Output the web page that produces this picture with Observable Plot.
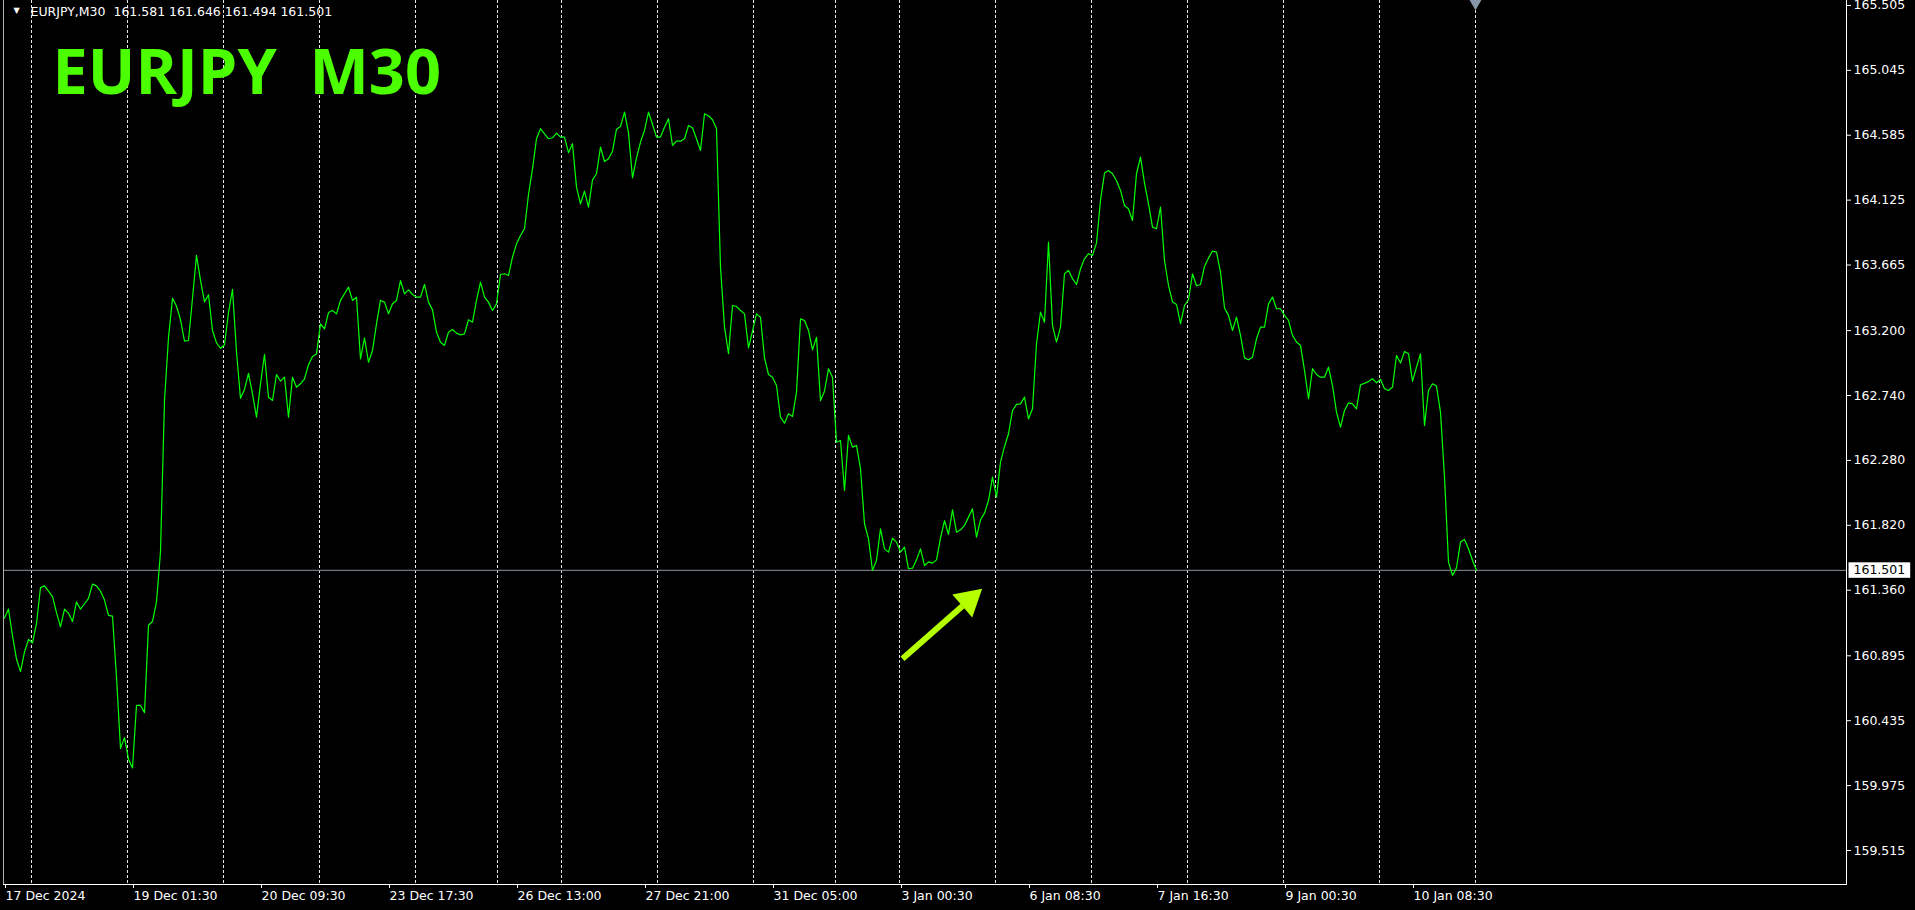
<!DOCTYPE html>
<html>
<head>
<meta charset="utf-8">
<script src="https://cdn.jsdelivr.net/npm/d3@7"></script>
<script src="https://cdn.jsdelivr.net/npm/@observablehq/plot@0.6"></script>
<style>
  html, body { margin: 0; padding: 0; background: #000; overflow: hidden; }
  #chart svg { display: block; }
</style>
</head>
<body>
<div id="chart"></div>
<script>
// ---- chart text ----
const symbolName = "EURJPY";
const timeframe = "M30";
const ohlcHeader = ["161.581", "161.646", "161.494", "161.501"];
const lastClose = 161.501;

// ---- close prices, one value every barStep bars (M30 bars, left to right) ----
const barStep = 2;
const closes17to19Dec = [
  161.163, 161.226, 161.037, 160.872, 160.783, 160.923, 161.011, 160.986, 161.125, 161.378,
  161.391, 161.353, 161.315, 161.201, 161.100, 161.226, 161.196, 161.138, 161.277, 161.226,
  161.264, 161.302, 161.404, 161.391, 161.353, 161.290, 161.181, 161.176, 160.745, 160.239,
  160.315, 160.163, 160.100, 160.543, 160.543, 160.492, 161.112, 161.138, 161.277, 161.631,
  162.707, 163.150, 163.429, 163.373, 163.277, 163.125, 163.130, 163.429, 163.733, 163.556,
  163.404, 163.454, 163.201, 163.113, 163.075, 163.100, 163.328, 163.492, 163.049, 162.720,
  162.783, 162.897
];
const closes20to24Dec = [
  162.752, 162.587, 162.823, 163.031, 162.728, 162.705, 162.889, 162.842, 162.870, 162.587,
  162.870, 162.799, 162.823, 162.858, 162.958, 163.017, 163.035, 163.248, 163.213, 163.328,
  163.343, 163.319, 163.414, 163.461, 163.508, 163.414, 163.437, 163.000, 163.149, 162.976,
  163.059, 163.248, 163.414, 163.402, 163.319, 163.390, 163.414, 163.555, 163.461, 163.489,
  163.456, 163.437, 163.437, 163.527, 163.402, 163.347, 163.189, 163.118, 163.095, 163.189,
  163.208, 163.182, 163.170, 163.177, 163.277, 163.260, 163.414, 163.544, 163.437, 163.402,
  163.343, 163.390, 163.598, 163.603
];
const closes25to30Dec = [
  163.591, 163.721, 163.815, 163.874, 163.922, 164.165, 164.347, 164.560, 164.631, 164.595,
  164.560, 164.567, 164.600, 164.572, 164.572, 164.461, 164.525, 164.217, 164.099, 164.189,
  164.075, 164.269, 164.312, 164.501, 164.399, 164.418, 164.472, 164.628, 164.647, 164.749,
  164.602, 164.283, 164.425, 164.536, 164.619, 164.749, 164.661, 164.572, 164.572, 164.642,
  164.701, 164.512, 164.543, 164.543, 164.560, 164.654, 164.638, 164.560, 164.477, 164.737,
  164.723, 164.695, 164.631, 163.650, 163.225, 163.036, 163.378, 163.371, 163.343, 163.319
];
const closes30Decto3Jan = [
  163.078, 163.196, 163.319, 163.295, 163.007, 162.889, 162.870, 162.811, 162.586, 162.544,
  162.610, 162.591, 162.764, 163.283, 163.272, 163.201, 163.064, 163.153, 162.704, 162.771,
  162.929, 162.870, 162.409, 162.421, 162.067, 162.457, 162.374, 162.386, 162.221, 161.831,
  161.724, 161.500, 161.571, 161.795, 161.653, 161.630, 161.729, 161.701, 161.630, 161.665,
  161.512, 161.516, 161.575, 161.653, 161.535, 161.561, 161.552, 161.575, 161.729, 161.854,
  161.755, 161.930, 161.771, 161.788, 161.819, 161.878, 161.937, 161.736, 161.859, 161.906,
  161.996, 162.161, 162.020
];
const closes3to7Jan = [
  162.268, 162.379, 162.469, 162.634, 162.677, 162.681, 162.729, 162.575, 162.646, 163.107,
  163.331, 163.260, 163.827, 163.237, 163.119, 163.225, 163.603, 163.627, 163.568, 163.527,
  163.638, 163.709, 163.745, 163.733, 163.820, 164.123, 164.317, 164.335, 164.312, 164.262,
  164.194, 164.087, 164.064, 163.981, 164.312, 164.430, 164.246, 164.099, 163.934, 163.922,
  164.076, 163.697, 163.520, 163.404, 163.386, 163.249, 163.378, 163.419, 163.603, 163.518,
  163.527, 163.655, 163.714, 163.764, 163.757, 163.615, 163.360, 163.308, 163.201, 163.296
];
const closes8to10Jan = [
  163.166, 163.007, 162.993, 163.012, 163.142, 163.225, 163.225, 163.390, 163.438, 163.355,
  163.355, 163.308, 163.272, 163.166, 163.119, 163.095, 162.918, 162.717, 162.930, 162.889,
  162.870, 162.870, 162.941, 162.811, 162.622, 162.516, 162.634, 162.688, 162.681, 162.646,
  162.816, 162.826, 162.840, 162.859, 162.830, 162.854, 162.788, 162.776, 162.800, 163.024,
  162.970, 163.052, 163.036, 162.840, 162.941, 163.036, 162.528, 162.776, 162.823, 162.807,
  162.622, 162.162, 161.559, 161.465, 161.519, 161.701, 161.720, 161.654, 161.571, 161.501
];

// ---- axes ----
const xTickBars = [0, 64, 128, 192, 256, 320, 384, 448, 512, 576, 640, 704];
const xTickLabels = ["17 Dec 2024", "19 Dec 01:30", "20 Dec 09:30", "23 Dec 17:30", "26 Dec 13:00",
  "27 Dec 21:00", "31 Dec 05:00", "3 Jan 00:30", "6 Jan 08:30", "7 Jan 16:30", "9 Jan 00:30", "10 Jan 08:30"];
const yTickValues = [165.505, 165.045, 164.585, 164.125, 163.665, 163.200, 162.740, 162.280,
  161.820, 161.360, 160.895, 160.435, 159.975, 159.515];
const daySeparatorBars = [13.5, 61.5, 109.5, 157.5, 205.5, 246.5, 278.5, 326.5, 374.5, 415.5,
  447.5, 495.5, 543.5, 591.5, 639.5, 687.5, 735.5];
const chartShiftBar = 735.5;
const xDomain = [-0.5, 921];
const yDomain = [159.274, 165.540];

// ---- annotation arrow (bar, price) ----
const arrowTail = {bar: 449, price: 160.874};
const arrowShaftEnd = {bar: 479, price: 161.248};
const arrowHead = {bar: 482.2, price: 161.289, angle: 49};

// ---- build table ----
const closes = [...closes17to19Dec, ...closes20to24Dec, ...closes25to30Dec,
  ...closes30Decto3Jan, ...closes3to7Jan, ...closes8to10Jan];
const series = closes.map((c, i) => ({bar: i * barStep, close: c}));

const lastLabel = lastClose.toFixed(3);
const headerText = `${symbolName},${timeframe}\u00a0\u00a0${ohlcHeader.join(" ")}`;
const titleText = `${symbolName}\u00a0\u00a0${timeframe}`;

const chart = Plot.plot({
  width: 1915,
  height: 910,
  marginLeft: 3,
  marginRight: 69,
  marginTop: 0,
  marginBottom: 26,
  style: {background: "#000", color: "#fff", fontFamily: "'DejaVu Sans', sans-serif", fontSize: "12.5px"},
  x: {domain: xDomain},
  y: {domain: yDomain},
  marks: [
    Plot.ruleX(daySeparatorBars, {stroke: "#e6e6e6", strokeDasharray: "3,2", strokeWidth: 1}),
    Plot.ruleY([lastClose], {stroke: "#8a939e"}),
    Plot.line(series, {x: "bar", y: "close", stroke: "#00ff00", strokeWidth: 1.2}),
    Plot.link([{a: arrowTail, b: arrowShaftEnd}], {
      x1: d => d.a.bar, y1: d => d.a.price, x2: d => d.b.bar, y2: d => d.b.price,
      stroke: "#b4ff00", strokeWidth: 6
    }),
    Plot.dot([arrowHead], {x: "bar", y: "price", symbol: "triangle", r: 11.3, rotate: d => d.angle, fill: "#b4ff00", stroke: null}),
    Plot.frame({anchor: "left", stroke: "#b0b0b0"}),
    Plot.frame({anchor: "bottom", stroke: "#ffffff"}),
    Plot.frame({anchor: "right", stroke: "#ffffff"}),
    Plot.axisY(yTickValues, {
      anchor: "right", tickFormat: d => d.toFixed(3), tickSize: 4, tickPadding: 3,
      stroke: "#fff", fill: "#fff", fontSize: 12.5, label: null
    }),
    Plot.axisX(xTickBars, {
      anchor: "bottom", tickFormat: d => xTickLabels[xTickBars.indexOf(d)], tickSize: 4, tickPadding: 3,
      textAnchor: "start", dx: 1, stroke: "#fff", fill: "#fff", fontSize: 12.5, label: null
    }),
    Plot.text([lastClose], {y: d => d, text: d => d.toFixed(3), frameAnchor: "right", dx: 7, textAnchor: "start", fill: "#000", fontSize: 12.5}),
    Plot.text(["\u25bc"], {frameAnchor: "top-left", dx: 10, dy: 12, lineAnchor: "bottom", textAnchor: "start", fill: "#fff", fontSize: 8}),
    Plot.text([headerText], {frameAnchor: "top-left", dx: 27, dy: 15, lineAnchor: "bottom", textAnchor: "start", fill: "#fff", fontSize: 12.5}),
    Plot.text([titleText], {frameAnchor: "top-left", dx: 49, dy: 93, lineAnchor: "bottom", textAnchor: "start", fill: "#4cff00", fontSize: 63, fontWeight: 700, fontFamily: "'Open Sans', sans-serif"}),
    Plot.dot([chartShiftBar], {x: d => d, frameAnchor: "top", dy: 2, symbol: "triangle", rotate: 180, r: 5, fill: "#8896aa", stroke: null})
  ]
});

document.getElementById("chart").append(chart);

// white box behind the current price label on the price scale
const label = [...chart.querySelectorAll("text")].find(n => n.textContent === lastLabel);
if (label) {
  const bb = label.getBBox();
  const rect = document.createElementNS("http://www.w3.org/2000/svg", "rect");
  rect.setAttribute("x", bb.x - 5);
  rect.setAttribute("y", bb.y);
  rect.setAttribute("width", bb.width + 10);
  rect.setAttribute("height", bb.height + 0.5);
  rect.setAttribute("fill", "#fff");
  if (label.getAttribute("transform")) rect.setAttribute("transform", label.getAttribute("transform"));
  label.parentNode.insertBefore(rect, label);
}
</script>
</body>
</html>
